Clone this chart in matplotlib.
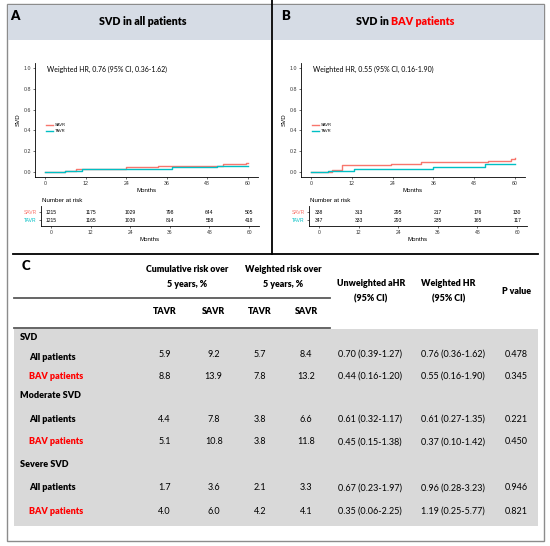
import matplotlib
matplotlib.use("Agg")
import matplotlib.pyplot as plt
from matplotlib.patches import Rectangle

# ---- data ----
months_ticks = [0, 12, 24, 36, 48, 60]

a_savr_t = [0, 6, 9, 12, 24, 33.5, 48, 52.5, 59.5, 60]
a_savr_v = [0, 0.004, 0.029, 0.031, 0.042, 0.055, 0.060, 0.077, 0.084, 0.084]
a_tavr_t = [0, 6, 10.8, 24, 37.5, 51, 60]
a_tavr_v = [0, 0.012, 0.026, 0.032, 0.048, 0.055, 0.057]

b_savr_t = [0, 6, 9, 23.5, 32.5, 48, 52, 59, 60]
b_savr_v = [0, 0.013, 0.065, 0.078, 0.094, 0.099, 0.106, 0.12, 0.132]
b_tavr_t = [0, 5, 9, 12.5, 24, 36, 51.2, 60]
b_tavr_v = [0, 0.008, 0.012, 0.024, 0.032, 0.042, 0.077, 0.078]

a_risk_savr = [1215, 1175, 1029, 798, 644, 505]
a_risk_tavr = [1215, 1165, 1039, 814, 558, 418]
b_risk_savr = [338, 313, 295, 217, 176, 130]
b_risk_tavr = [347, 333, 293, 235, 165, 117]

groups = ["SVD", "Moderate SVD", "Severe SVD"]
row_labels = ["All patients", "BAV patients"] * 3
tavr_cum = [5.9, 8.8, 4.4, 5.1, 1.7, 4.0]
savr_cum = [9.2, 13.9, 7.8, 10.8, 3.6, 6.0]
tavr_w = [5.7, 7.8, 3.8, 3.8, 2.1, 4.2]
savr_w = [8.4, 13.2, 6.6, 11.8, 3.3, 4.1]
unweighted_ahr = ["0.70 (0.39-1.27)", "0.44 (0.16-1.20)", "0.61 (0.32-1.17)",
                  "0.45 (0.15-1.38)", "0.67 (0.23-1.97)", "0.35 (0.06-2.25)"]
weighted_hr = ["0.76 (0.36-1.62)", "0.55 (0.16-1.90)", "0.61 (0.27-1.35)",
               "0.37 (0.10-1.42)", "0.96 (0.28-3.23)", "1.19 (0.25-5.77)"]
p_values = ["0.478", "0.345", "0.221", "0.450", "0.946", "0.821"]

SAVR_C = "#F8766D"
TAVR_C = "#00BFC4"
RED = "#FF0000"
W, H = 550, 546
TF = "Lato"          # table / header font
PF = "Liberation Sans"  # plot font
BW = "heavy"

fig = plt.figure(figsize=(W / 100, H / 100), dpi=100)
bg = fig.add_axes([0, 0, 1, 1])
bg.set_xlim(0, W)
bg.set_ylim(H, 0)
bg.axis("off")


def px_axes(left, top, right, bottom):
    return fig.add_axes([left / W, 1 - bottom / H, (right - left) / W, (bottom - top) / H])


# frame, headers, dividers
bg.add_patch(Rectangle((7, 4), 537, 537, fill=False, ec="#8c8c8c", lw=1.0))
bg.add_patch(Rectangle((7.5, 4.5), 263, 35.5, fc="#d6dce5", ec="none"))
bg.add_patch(Rectangle((273, 4.5), 270.5, 35.5, fc="#d6dce5", ec="none"))
bg.plot([272, 272], [0, 253.5], color="black", lw=1.3)
bg.plot([13, 538], [253.5, 253.5], color="black", lw=1.3)

bg.text(15, 15.5, "A", fontsize=9.5, fontweight=BW, family=TF, ha="center", va="center")
bg.text(143, 21.5, "SVD in all patients", fontsize=7.7, fontweight=BW, family=TF,
        ha="center", va="center")
bg.text(286, 15.5, "B", fontsize=9.5, fontweight=BW, family=TF, ha="center", va="center")
t1 = bg.text(356, 21.5, "SVD in ", fontsize=7.7, fontweight=BW, family=TF,
             ha="left", va="center")
bg.annotate("BAV patients", xycoords=t1, xy=(1, 0.5), va="center", ha="left",
            fontsize=7.7, fontweight=BW, family=TF, color=RED)


def km_panel(left, right, st, sv, tt, tv, hr_text):
    ax = px_axes(left, 63, right, 177)
    ax.step(st, sv, where="post", color=SAVR_C, lw=1.0, label="SAVR")
    ax.step(tt, tv, where="post", color=TAVR_C, lw=1.0, label="TAVR")
    ax.set_xlim(-3, 63)
    ax.set_ylim(-0.05, 1.05)
    ax.set_xticks(months_ticks)
    ax.set_yticks([0, 0.2, 0.4, 0.6, 0.8, 1.0])
    ax.set_yticklabels(["0.0", "0.2", "0.4", "0.6", "0.8", "1.0"])
    for s in ["top", "right"]:
        ax.spines[s].set_visible(False)
    for s in ["left", "bottom"]:
        ax.spines[s].set_linewidth(0.6)
    ax.tick_params(length=1.5, width=0.4, pad=1.5, labelsize=3.8, labelcolor="#333333")
    for lab in ax.get_xticklabels() + ax.get_yticklabels():
        lab.set_family(PF)
    ax.set_xlabel("Months", fontsize=4.4, family=PF, labelpad=1)
    ax.set_ylabel("SVD", fontsize=4.4, family=PF, labelpad=2)
    ax.text(0.055, 0.945, hr_text, transform=ax.transAxes, fontsize=5.0, family=TF,
            ha="left", va="center")
    ax.legend(loc="upper left", bbox_to_anchor=(0.04, 0.49), frameon=False,
              handlelength=1.6, handletextpad=0.6, labelspacing=0.5, borderpad=0,
              prop={"family": PF, "size": 3})
    ax.patch.set_alpha(0)
    return ax


km_panel(35, 258, a_savr_t, a_savr_v, a_tavr_t, a_tavr_v,
         "Weighted HR, 0.76 (95% CI, 0.36-1.62)")
km_panel(301, 525, b_savr_t, b_savr_v, b_tavr_t, b_tavr_v,
         "Weighted HR, 0.55 (95% CI, 0.16-1.90)")


def risk_table(left, right, savr, tavr):
    ax = px_axes(left, 206, right, 226)
    for m, s, t in zip(months_ticks, savr, tavr):
        ax.text(m, 2, str(s), fontsize=3.6, family=PF, ha="center", va="center")
        ax.text(m, 1, str(t), fontsize=3.6, family=PF, ha="center", va="center")
    ax.set_xlim(-3, 63)
    ax.set_ylim(0.25, 2.75)
    ax.set_xticks(months_ticks)
    ax.set_yticks([2, 1])
    ax.set_yticklabels(["SAVR", "TAVR"])
    for lab, c in zip(ax.get_yticklabels(), [SAVR_C, TAVR_C]):
        lab.set_color(c)
    for s in ["top", "right"]:
        ax.spines[s].set_visible(False)
    for s in ["left", "bottom"]:
        ax.spines[s].set_linewidth(0.6)
    ax.tick_params(length=1.5, width=0.4, pad=1.5, labelsize=3.6)
    ax.tick_params(axis="x", labelcolor="#333333")
    for lab in ax.get_xticklabels() + ax.get_yticklabels():
        lab.set_family(PF)
    ax.set_xlabel("Months", fontsize=4.4, family=PF, labelpad=1)
    ax.patch.set_alpha(0)
    return ax


risk_table(41, 259, a_risk_savr, a_risk_tavr)
risk_table(309, 527, b_risk_savr, b_risk_tavr)
bg.text(42, 200.5, "Number at risk", fontsize=4.5, family=PF, ha="left", va="center")
bg.text(310, 200.5, "Number at risk", fontsize=4.5, family=PF, ha="left", va="center")

# ---- panel C table ----
bg.text(26, 266, "C", fontsize=9.5, fontweight=BW, family=TF, ha="center", va="center")
hdr = dict(fontsize=6.4, fontweight=BW, family=TF, ha="center", va="center")
bg.text(187, 269, "Cumulative risk over", **hdr)
bg.text(187, 284.5, "5 years, %", **hdr)
bg.text(283, 269, "Weighted risk over", **hdr)
bg.text(283, 284.5, "5 years, %", **hdr)
bg.text(371, 284, "Unweighted aHR", **hdr)
bg.text(371, 299, "(95% CI)", **hdr)
bg.text(448.5, 284, "Weighted HR", **hdr)
bg.text(448.5, 299, "(95% CI)", **hdr)
bg.text(516.5, 291.5, "P value", **hdr)
col_x = [164.7, 213.7, 259.9, 306]
for x, lab in zip(col_x, ["TAVR", "SAVR", "TAVR", "SAVR"]):
    bg.text(x, 311.7, lab, **hdr)

bg.add_patch(Rectangle((14, 328.5), 524, 197.5, fc="#d9d9d9", ec="none"))
bg.plot([14, 330], [297.7, 297.7], color="#595959", lw=1.3)
bg.plot([14, 330], [328.3, 328.3], color="#595959", lw=1.3)

group_y = [337.3, 396, 464.8]
label_y = [357.3, 376.5, 419, 442, 487.7, 511]
value_y = [354.3, 376.5, 419, 442, 487.7, 511]
for g, y in zip(groups, group_y):
    bg.text(19.5, y, g, fontsize=6.5, fontweight=BW, family=TF, ha="left", va="center")
val = dict(fontsize=6.5, family=TF, ha="center", va="center")
for i, lab in enumerate(row_labels):
    bg.text(29, label_y[i], lab, fontsize=6.5, fontweight=BW, family=TF, ha="left",
            va="center", color=RED if lab.startswith("BAV") else "black")
    y = value_y[i]
    for x, v in zip(col_x, [tavr_cum[i], savr_cum[i], tavr_w[i], savr_w[i]]):
        bg.text(x, y, f"{v:.1f}", **val)
    bg.text(369.5, y, unweighted_ahr[i], **val)
    bg.text(453, y, weighted_hr[i], **val)
    bg.text(516, y, p_values[i], **val)

fig.savefig("out.png", dpi=100)
